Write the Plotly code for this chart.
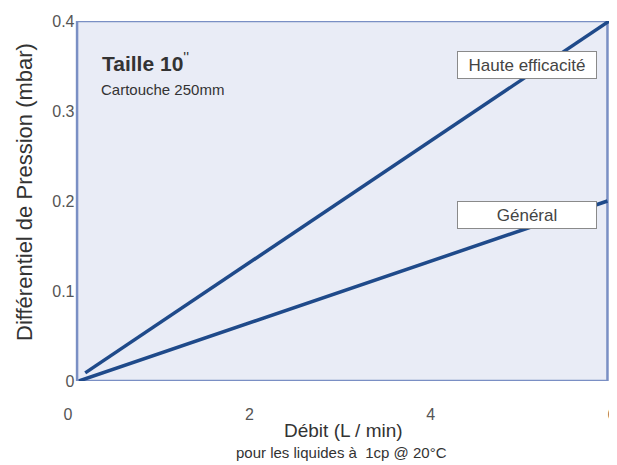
import plotly.graph_objects as go

# Data
x_haute = [0.19, 5.97]
y_haute = [0.009, 0.4]
x_general = [0.12, 5.95]
y_general = [0.0, 0.2]
x_ticks = [0, 2, 4, 6]
y_ticks = [0, 0.1, 0.2, 0.3, 0.4]
y_ticklabels = ["0", "0.1", "0.2", "0.3", "0.4"]

FONT = "Liberation Sans, Arial, sans-serif"
LINE = "#1f4a8a"

fig = go.Figure()
# plot frame / background
fig.add_shape(type="rect", xref="x", yref="y", x0=0.1, x1=5.95, y0=0, y1=0.4,
              fillcolor="#e9ecf6", line=dict(color="#7a8fc4", width=2.5), layer="below")

fig.add_trace(go.Scatter(x=x_haute, y=y_haute, mode="lines",
                         line=dict(color=LINE, width=3.5), showlegend=False, cliponaxis=False))
fig.add_trace(go.Scatter(x=x_general, y=y_general, mode="lines",
                         line=dict(color=LINE, width=3.5), showlegend=False, cliponaxis=False))

# page body has an 8px margin: figure is 609x457 placed at (8, 8)
fig.update_layout(
    width=609, height=457,
    margin=dict(l=60, r=5, t=13, b=84),
    paper_bgcolor="white", plot_bgcolor="white",
    font=dict(family=FONT, color="#555555"),
    xaxis=dict(range=[0, 6], tickvals=x_ticks, showgrid=False, zeroline=False,
               showline=False, ticks="", ticklabelstandoff=22, automargin=False,
               tickfont=dict(size=16, color="#555555")),
    yaxis=dict(range=[0, 0.4], tickvals=y_ticks, ticktext=y_ticklabels, showgrid=False,
               zeroline=False, showline=False, ticks="", anchor="free", position=0.012,
               automargin=False, tickfont=dict(size=16, color="#555555")),
)

anns = [
    dict(text="Différentiel de Pression (mbar)", x=24, y=192, textangle=-90,
         font=dict(size=22, color="#333333")),
    dict(text="Débit (L / min)", x=343, y=430, font=dict(size=19, color="#333333")),
    dict(text="pour les liquides à  1cp @ 20°C", x=341, y=452, font=dict(size=15, color="#333333")),
]
for a in anns:
    fig.add_annotation(text=a["text"], xref="paper", yref="paper",
                       x=(a["x"] - 68) / 544, y=(381 - a["y"]) / 360,
                       xanchor="center", yanchor="middle", showarrow=False,
                       textangle=a.get("textangle", 0), font=dict(family=FONT, **a["font"]))

fig.add_annotation(text="<b>Taille 10</b><sup>''</sup>", xref="paper", yref="paper",
                   x=(100 - 68) / 544, y=(381 - 62) / 360, xanchor="left", yanchor="middle",
                   showarrow=False, font=dict(family=FONT, size=21, color="#333333"))
fig.add_annotation(text="Cartouche 250mm", xref="paper", yref="paper",
                   x=(99 - 68) / 544, y=(381 - 89) / 360, xanchor="left", yanchor="middle",
                   showarrow=False, font=dict(family=FONT, size=15, color="#333333"))

for label, cx, cy in [("Haute efficacité", 527, 65), ("Général", 527, 215)]:
    fig.add_annotation(text=label, xref="paper", yref="paper",
                       x=(cx - 68) / 544, y=(381 - cy) / 360, xanchor="center", yanchor="middle",
                       showarrow=False, width=134, height=22, bgcolor="white",
                       bordercolor="#8a8a8a", borderwidth=1, borderpad=2,
                       font=dict(family=FONT, size=17, color="#444444"))

fig.write_html("out.html")
